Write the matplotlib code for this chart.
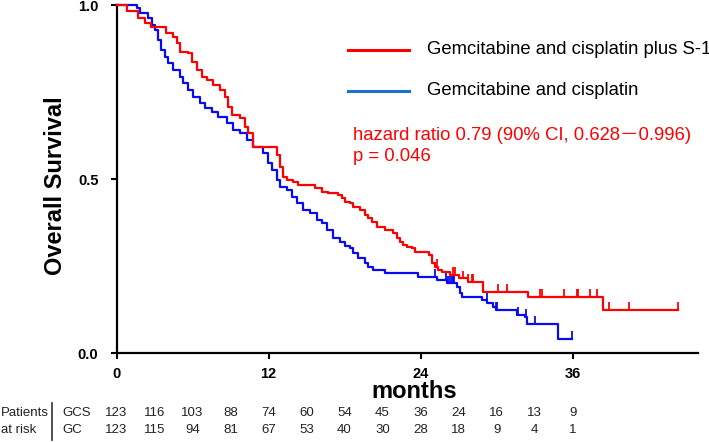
import numpy as np
import matplotlib
matplotlib.use('Agg')
import matplotlib.pyplot as plt
from matplotlib.transforms import blended_transform_factory

# ---- Kaplan-Meier steps (months, survival after drop) ----
gcs_time = [0.81, 1.70, 2.25, 2.72, 3.88, 4.46, 4.75, 5.01, 5.64, 5.94, 6.33, 6.73,
            7.12, 7.62, 8.17, 8.57, 8.83, 9.09, 9.75, 10.14, 10.41, 10.80, 12.69,
            12.91, 13.17, 13.44, 13.93, 14.33, 15.67, 16.22, 16.70, 17.49, 17.80,
            18.04, 18.43, 18.67, 19.22, 19.62, 19.85, 20.17, 20.57, 21.20, 21.83,
            22.14, 22.38, 22.62, 22.93, 23.33, 23.57, 24.67, 24.91, 25.14, 25.38,
            25.70, 26.33, 27.04, 27.75, 28.93, 32.49, 38.41]
gcs_surv = [0.985, 0.963, 0.950, 0.939, 0.920, 0.910, 0.891, 0.867, 0.862, 0.838,
            0.814, 0.795, 0.785, 0.771, 0.757, 0.737, 0.709, 0.685, 0.675, 0.651,
            0.632, 0.594, 0.570, 0.536, 0.507, 0.498, 0.493, 0.484, 0.474, 0.464,
            0.460, 0.455, 0.446, 0.436, 0.431, 0.421, 0.412, 0.397, 0.388, 0.378,
            0.364, 0.354, 0.345, 0.330, 0.321, 0.311, 0.306, 0.302, 0.292, 0.282,
            0.259, 0.249, 0.239, 0.234, 0.225, 0.215, 0.205, 0.177, 0.163, 0.124]
gcs_end = 44.33
gcs_censor = [25.28, 26.59, 26.72, 27.38, 27.77, 28.04, 28.17, 30.14, 30.80, 33.43,
              33.57, 35.33, 36.33, 36.46, 37.38, 37.96, 38.90, 40.48, 44.33]

gc_time = [1.64, 1.86, 2.51, 2.78, 3.04, 3.30, 3.51, 3.83, 4.09, 4.48, 5.01, 5.27,
           5.67, 6.06, 6.59, 6.99, 7.52, 8.04, 8.70, 9.22, 9.75, 10.28, 10.80,
           11.59, 11.96, 12.28, 12.65, 12.91, 13.46, 13.83, 14.23, 14.75, 15.28,
           15.81, 16.20, 16.59, 17.12, 17.64, 18.04, 18.43, 18.67, 19.07, 19.62,
           19.85, 20.25, 21.20, 23.80, 25.30, 26.09, 26.88, 27.12, 27.28, 28.85,
           29.25, 29.72, 29.96, 31.62, 32.25, 32.41, 34.86]
gc_surv = [0.991, 0.977, 0.963, 0.943, 0.929, 0.900, 0.872, 0.852, 0.833, 0.814,
           0.795, 0.776, 0.757, 0.737, 0.718, 0.704, 0.694, 0.680, 0.661, 0.642,
           0.632, 0.613, 0.594, 0.575, 0.546, 0.527, 0.498, 0.479, 0.469, 0.450,
           0.431, 0.412, 0.402, 0.383, 0.374, 0.354, 0.330, 0.321, 0.308, 0.302,
           0.287, 0.273, 0.259, 0.249, 0.239, 0.230, 0.220, 0.211, 0.201, 0.191,
           0.172, 0.163, 0.153, 0.144, 0.134, 0.124, 0.110, 0.104, 0.084, 0.041]
gc_end = 35.94
gc_censor = [25.14, 26.01, 26.20, 26.33, 26.46, 26.54, 26.64, 27.12, 29.23, 29.96,
             30.02, 31.72, 32.33, 33.04, 35.94]

risk_months = list(range(0, 37, 3))
risk_gcs = [123, 116, 103, 88, 74, 60, 54, 45, 36, 24, 16, 13, 9]
risk_gc = [123, 115, 94, 81, 67, 53, 40, 30, 28, 18, 9, 4, 1]

RED = '#FF0000'
BLUE = '#0A0AF0'
LEGEND_BLUE = '#1E6FD0'

plt.rcParams['font.family'] = ['Liberation Sans', 'DejaVu Sans']

fig = plt.figure(figsize=(7.09, 4.42), dpi=100)
ax = fig.add_axes([116.5 / 709, 1 - 353.3 / 442, 581.5 / 709, 348 / 442])


def km(ax, times, surv, end, censor, color):
    t = np.concatenate([[0.0], times, [end]])
    s = np.concatenate([[1.0], surv, [surv[-1]]])
    ax.step(t, s, where='post', color=color, lw=1.6, clip_on=False, zorder=3)
    idx = np.searchsorted(times, censor, side='right')
    vals = np.concatenate([[1.0], surv])[idx]
    ax.vlines(censor, vals, vals + 0.022, color=color, lw=1.3, zorder=3)


km(ax, gc_time, gc_surv, gc_end, gc_censor, BLUE)
km(ax, gcs_time, gcs_surv, gcs_end, gcs_censor, RED)

ax.set_xlim(0, 45.9)
ax.set_ylim(0, 1.0)
ax.set_xticks([0, 12, 24, 36])
ax.set_yticks([0, 0.5, 1.0])
ax.set_yticklabels(['0.0', '0.5', '1.0'])
for sp in ['top', 'right']:
    ax.spines[sp].set_visible(False)
for sp in ['left', 'bottom']:
    ax.spines[sp].set_linewidth(1.6)
ax.tick_params(axis='both', direction='out', length=4, width=1.5,
               labelsize=10.5)
ax.tick_params(axis='y', pad=9)
ax.tick_params(axis='x', pad=6)
for lab in ax.get_xticklabels() + ax.get_yticklabels():
    lab.set_fontweight('bold')

fig.text(56 / 709, 1 - 186 / 442, 'Overall Survival', rotation=90,
         ha='center', va='center', fontsize=17, fontweight='bold')
fig.text(414 / 709, 1 - 392 / 442, 'months', ha='center', va='center',
         fontsize=17, fontweight='bold')

# legend drawn by hand, as in the original
fig.add_artist(plt.Line2D([348 / 709, 409 / 709], [1 - 50 / 442] * 2,
                          color=RED, lw=2.2))
fig.add_artist(plt.Line2D([348 / 709, 409 / 709], [1 - 91 / 442] * 2,
                          color=LEGEND_BLUE, lw=2.2))
fig.text(427 / 709, 1 - 50 / 442, 'Gemcitabine and cisplatin plus S-1',
         ha='left', va='center', fontsize=13.3)
fig.text(427 / 709, 1 - 91 / 442, 'Gemcitabine and cisplatin',
         ha='left', va='center', fontsize=13.3)
fig.text(353 / 709, 1 - 136 / 442, 'hazard ratio 0.79 (90% CI, 0.628\uFF0D0.996)',
         ha='left', va='center', fontsize=13.3, color=RED,
         family=['Liberation Sans', 'Noto Sans CJK JP'])
fig.text(353 / 709, 1 - 156 / 442, 'p = 0.046',
         ha='left', va='center', fontsize=13.3, color=RED)

# numbers at risk
tr = blended_transform_factory(ax.transData, fig.transFigure)
y1, y2 = 1 - 413 / 442, 1 - 430 / 442
for m, a, b in zip(risk_months, risk_gcs, risk_gc):
    ax.text(m, y1, str(a), transform=tr, ha='center', va='center',
            fontsize=9.5, color='#222222', clip_on=False)
    ax.text(m, y2, str(b), transform=tr, ha='center', va='center',
            fontsize=9.5, color='#222222', clip_on=False)
fig.text(1 / 709, y1, 'Patients', ha='left', va='center', fontsize=9.5, color='#222222')
fig.text(1 / 709, y2, 'at risk', ha='left', va='center', fontsize=9.5, color='#222222')
fig.text(62 / 709, y1, 'GCS', ha='left', va='center', fontsize=9.5, color='#222222')
fig.text(62 / 709, y2, 'GC', ha='left', va='center', fontsize=9.5, color='#222222')
fig.add_artist(plt.Line2D([51.7 / 709] * 2, [1 - 403 / 442, 1 - 440 / 442],
                          color='#333333', lw=1.2))

fig.savefig('out.png', dpi=100, facecolor='white')
